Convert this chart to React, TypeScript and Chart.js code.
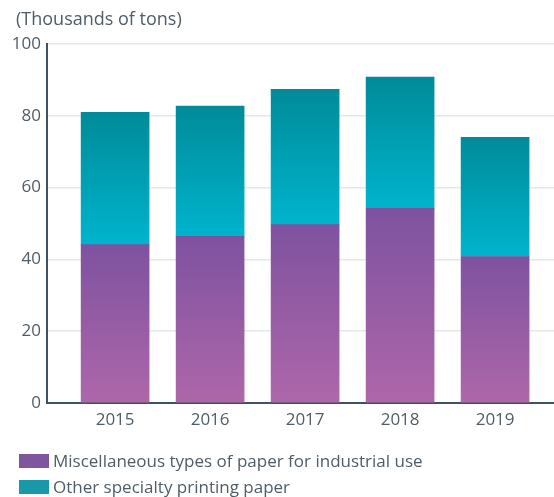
import React, { useEffect, useRef } from "react";
import { Chart, registerables } from "chart.js";

Chart.register(...registerables);

const years = ["2015", "2016", "2017", "2018", "2019"];
const industrialPaper = [44.1, 46.4, 49.7, 54.2, 40.8];
const specialtyPrinting = [36.9, 36.3, 37.7, 36.6, 33.2];
const yTicks = [0, 20, 40, 60, 80, 100];

const FONT = "'Open Sans', 'Noto Sans', sans-serif";
const TEXT_COLOR = "#4f5d68";

function segGradient(ctx: any, from: number[], to: number[], top: string, bottom: string) {
  const chart = ctx.chart;
  const ys = chart.scales && chart.scales.y;
  if (!ys || ctx.type !== "data") return top;
  const i = ctx.dataIndex;
  const y0 = ys.getPixelForValue(from[i]);
  const y1 = ys.getPixelForValue(to[i]);
  if (!isFinite(y0) || !isFinite(y1) || y0 === y1) return top;
  const g = chart.ctx.createLinearGradient(0, y1, 0, y0);
  g.addColorStop(0, top);
  g.addColorStop(1, bottom);
  return g;
}

export default function App() {
  const ref = useRef<HTMLCanvasElement>(null);
  useEffect(() => {
    if (!ref.current) return;
    const zeros = industrialPaper.map(() => 0);
    const totals = industrialPaper.map((v, i) => v + specialtyPrinting[i]);
    const chart = new Chart(ref.current, {
      type: "bar",
      data: {
        datasets: [
          {
            label: "Miscellaneous types of paper for industrial use",
            data: industrialPaper.map((v, i) => ({ x: i, y: v })),
            backgroundColor: (c: any) => segGradient(c, zeros, industrialPaper, "#7e52a0", "#ae67a9"),
            barThickness: 68,
          },
          {
            label: "Other specialty printing paper",
            data: specialtyPrinting.map((v, i) => ({ x: i, y: v })),
            backgroundColor: (c: any) => segGradient(c, industrialPaper, totals, "#008b99", "#00b4cd"),
            barThickness: 68,
          },
        ],
      },
      options: {
        animation: false,
        responsive: false,
        maintainAspectRatio: false,
        layout: { padding: { top: 44, left: 0, right: 0, bottom: 0 } },
        plugins: { legend: { display: false }, tooltip: { enabled: false } },
        scales: {
          x: {
            type: "linear",
            stacked: true,
            offset: false,
            min: -0.717,
            max: 4.62,
            grid: { display: false, drawTicks: false },
            border: { display: true, color: "#3d5262", width: 2 },
            afterBuildTicks: (s: any) => {
              s.ticks = years.map((_, i) => ({ value: i }));
            },
            afterFit: (s: any) => {
              s.height = 94;
            },
            ticks: {
              padding: 7,
              color: TEXT_COLOR,
              font: { family: FONT, size: 17 },
              callback: (v: any) => years[v as number] ?? "",
            },
          },
          y: {
            stacked: true,
            min: 0,
            max: 100,
            afterBuildTicks: (s: any) => {
              s.ticks = yTicks.map((v) => ({ value: v }));
            },
            afterFit: (s: any) => {
              s.width = 47;
            },
            grid: { color: "#e4e7e9", lineWidth: 1.5, drawTicks: false },
            border: { display: true, color: "#3d5262", width: 2 },
            ticks: {
              padding: 6,
              color: TEXT_COLOR,
              font: { family: FONT, size: 17 },
            },
          },
        },
      },
    });
    return () => chart.destroy();
  }, []);

  const legendItems = [
    { label: "Miscellaneous types of paper for industrial use", color: "#7f55a0" },
    { label: "Other specialty printing paper", color: "#1898a8" },
  ];

  return (
    <div style={{ position: "absolute", left: 0, top: 0, width: 554, height: 497, background: "#fff", overflow: "hidden", fontFamily: FONT }}>
      <canvas ref={ref} width={554} height={497} style={{ position: "absolute", left: 0, top: 0, width: 554, height: 497 }} />
      <div style={{ position: "absolute", left: 16, top: 6, fontSize: 18, color: TEXT_COLOR, lineHeight: "24px", whiteSpace: "nowrap" }}>
        (Thousands of tons)
      </div>
      {legendItems.map((it, k) => (
        <div key={k} style={{ position: "absolute", left: 19, top: 449 + k * 26, height: 24, display: "flex", alignItems: "center", whiteSpace: "nowrap" }}>
          <div style={{ width: 30, height: 14, background: it.color, marginRight: 4 }} />
          <span style={{ fontSize: 17, color: TEXT_COLOR, lineHeight: "24px" }}>{it.label}</span>
        </div>
      ))}
    </div>
  );
}
